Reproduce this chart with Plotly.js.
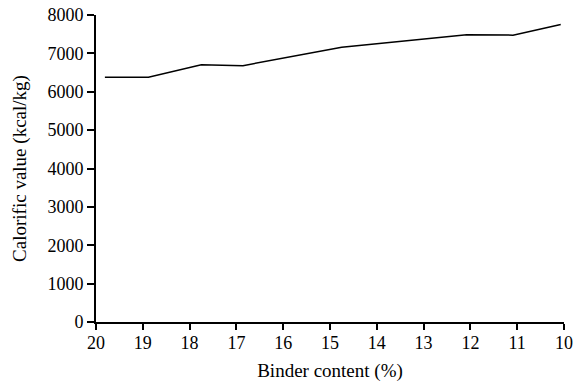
<!DOCTYPE html>
<html>
<head>
<meta charset="utf-8">
<script src="https://cdn.plot.ly/plotly-3.0.1.min.js"></script>
<style>html,body{margin:0;padding:0;background:#fff;}#chart{width:587px;height:385px;}</style>
</head>
<body>
<div id="chart"></div>
<script>
const binderContent = [19.81, 18.88, 17.75, 16.86, 14.75, 12.08, 11.09, 10.07];
const calorificValue = [6380, 6380, 6705, 6680, 7160, 7485, 7475, 7755];
const xTicks = [20, 19, 18, 17, 16, 15, 14, 13, 12, 11, 10];
const yTicks = [0, 1000, 2000, 3000, 4000, 5000, 6000, 7000, 8000];

const family = '"Liberation Serif", "Times New Roman", serif';
const tickFont = {family: family, size: 18, color: '#000'};
const titleFont = {family: family, size: 19, color: '#000'};

Plotly.newPlot('chart', [{
  x: binderContent,
  y: calorificValue,
  type: 'scatter',
  mode: 'lines',
  line: {color: '#000', width: 1.5},
  hoverinfo: 'skip'
}], {
  width: 587, height: 385,
  margin: {l: 96, r: 23, t: 15, b: 63},
  paper_bgcolor: '#fff', plot_bgcolor: '#fff',
  font: tickFont,
  showlegend: false,
  xaxis: {
    range: [20, 10],
    tickvals: xTicks,
    ticktext: xTicks.map(String),
    showgrid: false, zeroline: false,
    showline: true, linecolor: '#000', linewidth: 2,
    ticks: 'outside', ticklen: 6, tickwidth: 2, tickcolor: '#000',
    ticklabelstandoff: -3,
    tickfont: tickFont,
    title: {text: 'Binder content (%)', font: titleFont, standoff: 12}
  },
  yaxis: {
    range: [0, 8000],
    tickvals: yTicks,
    ticktext: yTicks.map(String),
    showgrid: false, zeroline: false,
    showline: true, linecolor: '#000', linewidth: 2,
    ticks: 'outside', ticklen: 7, tickwidth: 2, tickcolor: '#000',
    tickfont: tickFont,
    title: {text: 'Calorific value (kcal/kg)', font: titleFont, standoff: 16}
  }
}, {staticPlot: true, displayModeBar: false});
</script>
</body>
</html>
